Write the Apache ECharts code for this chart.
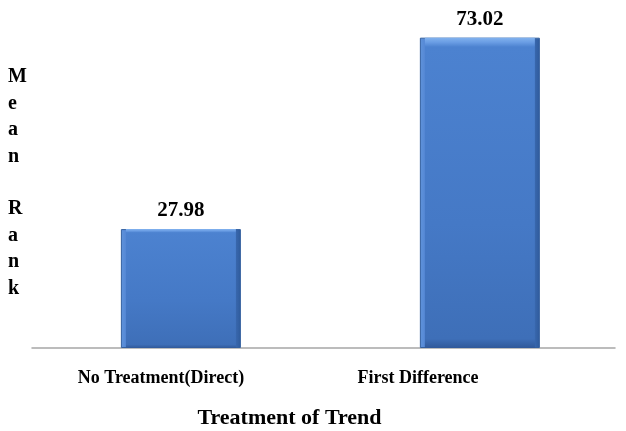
<!DOCTYPE html>
<html>
<head>
<meta charset="utf-8">
<script src="https://cdn.jsdelivr.net/npm/echarts@6/dist/echarts.min.js"></script>
<style>
  html, body { margin: 0; padding: 0; background: #fff; }
  #chart { width: 626px; height: 431px; }
</style>
</head>
<body>
<div id="chart"></div>
<script>
// Mean rank by treatment of trend
const categories = ['No Treatment(Direct)', 'First Difference'];
const meanRank = [27.98, 73.02];
const axisTitle = 'Treatment of Trend';
const yTitle = 'Mean Rank';

const serif = '"Liberation Serif", "Times New Roman", serif';

// bar centres sit on integer positions of a value axis
const barPoints = meanRank.map((v, i) => [i, v]);

const barAxis = {
  type: 'value', gridIndex: 0, min: -0.498, max: 1.452,
  axisTick: { show: false }, axisLabel: { show: false }, splitLine: { show: false }
};

const chart = echarts.init(document.getElementById('chart'));
chart.setOption({
  animation: false,
  backgroundColor: '#ffffff',
  grid: [
    { left: 32, right: 11, top: 8, height: 340, outerBoundsMode: 'none' },
    { left: 32.5, width: 514, top: 8, height: 340, outerBoundsMode: 'none' }
  ],
  xAxis: [
    Object.assign({}, barAxis, {
      axisLine: { show: true, lineStyle: { color: '#a6a6a6', width: 1.5 } }
    }),
    {
      type: 'category', gridIndex: 1, data: categories,
      axisLine: { show: false }, axisTick: { show: false }, splitLine: { show: false },
      axisLabel: {
        margin: 21, color: '#000', fontFamily: serif, fontWeight: 'bold', fontSize: 18
      },
      name: axisTitle, nameLocation: 'middle', nameGap: 59,
      nameTextStyle: { color: '#000', fontFamily: serif, fontWeight: 'bold', fontSize: 22 }
    },
    // second copy of the bar axis so the bar face is centred on its own
    Object.assign({}, barAxis, { show: false })
  ],
  yAxis: [
    { type: 'value', gridIndex: 0, min: 0, max: 80, show: false },
    { type: 'value', gridIndex: 1, min: 0, max: 80, show: false }
  ],
  graphic: [{
    type: 'text', left: 8, top: 64,
    style: {
      text: yTitle.split('').join('\n'),
      fill: '#000', font: 'bold 20px ' + serif,
      lineHeight: 26.4, align: 'center'
    }
  }],
  series: [
    {
      // bevel edges: light on the left, dark on the right
      type: 'bar', xAxisIndex: 0, yAxisIndex: 0, data: barPoints,
      barWidth: 120, z: 2,
      itemStyle: {
        borderColor: '#34609f', borderWidth: 1,
        color: new echarts.graphic.LinearGradient(0, 0, 1, 0, [
          { offset: 0, color: '#5f93da' },
          { offset: 0.04, color: '#5689d6' },
          { offset: 0.5, color: '#4a7fcd' },
          { offset: 0.96, color: '#3867ad' },
          { offset: 1, color: '#2f5a9b' }
        ])
      }
    },
    {
      // face of the bar with a light top bevel
      type: 'bar', xAxisIndex: 2, yAxisIndex: 0, data: barPoints,
      barWidth: 110, z: 3,
      itemStyle: {
        color: new echarts.graphic.LinearGradient(0, 0, 0, 1, [
          { offset: 0, color: '#82b2ee' },
          { offset: 0.015, color: '#6a9de4' },
          { offset: 0.03, color: '#4c82d0' },
          { offset: 0.6, color: '#4579c6' },
          { offset: 0.97, color: '#3e6fb8' },
          { offset: 1, color: '#30599a' }
        ])
      },
      label: {
        show: true, position: 'top', distance: 8,
        formatter: p => meanRank[p.dataIndex].toFixed(2),
        color: '#000', fontFamily: serif, fontWeight: 'bold', fontSize: 21
      }
    }
  ]
});
</script>
</body>
</html>
